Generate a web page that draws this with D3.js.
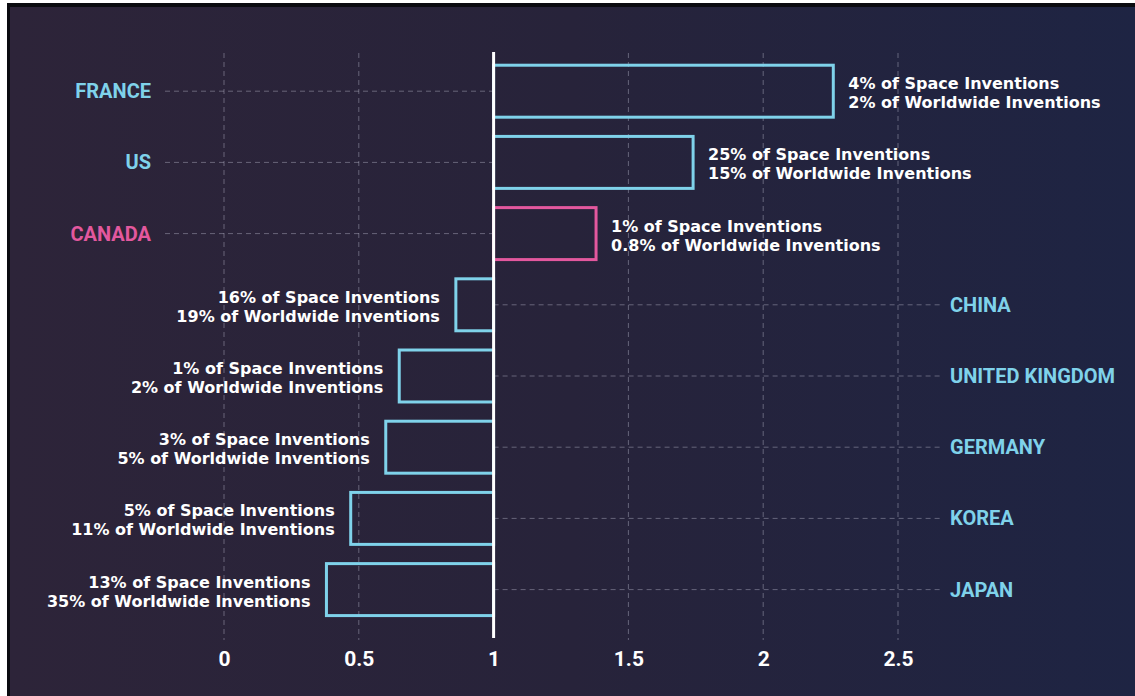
<!DOCTYPE html>
<html>
<head>
<meta charset="utf-8">
<script src="https://cdn.jsdelivr.net/npm/d3@7"></script>
<style>
  body { margin: 0; background: #ffffff; }
  svg { display: block; }
</style>
</head>
<body>
<svg id="chart" width="1135" height="696"></svg>
<script>
// Ratio of a country's share of space inventions to its share of all inventions
const countries  = ["FRANCE", "US", "CANADA", "CHINA", "UNITED KINGDOM", "GERMANY", "KOREA", "JAPAN"];
const ratios     = [2.26, 1.74, 1.38, 0.86, 0.65, 0.60, 0.47, 0.38];
const spaceShare = ["4%", "25%", "1%", "16%", "1%", "3%", "5%", "13%"];
const worldShare = ["2%", "15%", "0.8%", "19%", "2%", "5%", "11%", "35%"];
const highlighted = ["CANADA"];
const tickValues = [0, 0.5, 1, 1.5, 2, 2.5];
const baseline = 1;

const rows = countries.map((c, i) => ({
  country: c,
  ratio: ratios[i],
  space: spaceShare[i],
  world: worldShare[i]
}));

const W = 1135, H = 696;
const CYAN = "#7fd2ea", PINK = "#e3589e";
const textFont = "'DejaVu Sans', 'Open Sans', sans-serif";
const labelFont = "'Liberation Sans Narrow', 'Roboto', sans-serif";

const svg = d3.select("#chart");
const defs = svg.append("defs");
const grad = defs.append("linearGradient").attr("id", "bg").attr("x1", 0).attr("x2", 1).attr("y1", 0).attr("y2", 0);
grad.append("stop").attr("offset", "0%").attr("stop-color", "#2d2439");
grad.append("stop").attr("offset", "50%").attr("stop-color", "#27233a");
grad.append("stop").attr("offset", "100%").attr("stop-color", "#1e2443");

// frame and panel
svg.append("rect").attr("x", 7).attr("y", 3).attr("width", W - 7).attr("height", H - 3).attr("fill", "#0b0b10");
svg.append("rect").attr("x", 10).attr("y", 7).attr("width", W - 10).attr("height", H - 7).attr("fill", "url(#bg)");

const x = d3.scaleLinear().domain([0, 2.5]).range([224, 898]);
const y = d3.scaleBand().domain(countries).range([55.6, 625.2]).paddingInner(0.27).paddingOuter(0.135);
const yc = d => y(d) + y.bandwidth() / 2;

const gridTop = 53, gridBottom = 640;
const gridColor = "rgba(190,190,210,0.42)";

// vertical dashed grid
svg.append("g").selectAll("line")
  .data(tickValues.filter(t => t !== baseline))
  .join("line")
  .attr("x1", d => x(d)).attr("x2", d => x(d))
  .attr("y1", gridTop).attr("y2", gridBottom)
  .attr("stroke", gridColor).attr("stroke-width", 1)
  .attr("stroke-dasharray", "5,4");

// horizontal guides from country label to the baseline
const above = d => d.ratio >= baseline;
const leftLabelX = 151, rightLabelX = 950;
svg.append("g").selectAll("line")
  .data(rows)
  .join("line")
  .attr("x1", d => above(d) ? leftLabelX + 14 : x(baseline))
  .attr("x2", d => above(d) ? x(baseline) : rightLabelX - 10)
  .attr("y1", d => yc(d.country)).attr("y2", d => yc(d.country))
  .attr("stroke", gridColor).attr("stroke-width", 1)
  .attr("stroke-dasharray", "5,4");

// bars as outlined boxes from the baseline
svg.append("g").selectAll("rect")
  .data(rows)
  .join("rect")
  .attr("x", d => Math.min(x(d.ratio), x(baseline)))
  .attr("width", d => Math.abs(x(d.ratio) - x(baseline)))
  .attr("y", d => y(d.country))
  .attr("height", y.bandwidth())
  .attr("fill", "none")
  .attr("stroke", d => highlighted.includes(d.country) ? PINK : CYAN)
  .attr("stroke-width", 3);

// baseline axis
svg.append("line")
  .attr("x1", x(baseline)).attr("x2", x(baseline))
  .attr("y1", 52).attr("y2", 638)
  .attr("stroke", "#ffffff").attr("stroke-width", 3);

// country labels
svg.append("g").selectAll("text")
  .data(rows)
  .join("text")
  .attr("x", d => above(d) ? leftLabelX : rightLabelX)
  .attr("y", d => yc(d.country))
  .attr("dy", "0.35em")
  .attr("text-anchor", d => above(d) ? "end" : "start")
  .attr("fill", d => highlighted.includes(d.country) ? PINK : CYAN)
  .attr("font-family", labelFont)
  .attr("font-weight", 700)
  .attr("font-size", 20)
  .text(d => d.country);

// share annotations beside each bar, one text per line
const noteX = d => above(d) ? x(d.ratio) + 15 : x(d.ratio) - 16;
const noteLines = rows.flatMap(d => [
  { d, line: 0, text: `${d.space} of Space Inventions` },
  { d, line: 1, text: `${d.world} of Worldwide Inventions` }
]);
svg.append("g").selectAll("text")
  .data(noteLines)
  .join("text")
  .attr("x", n => noteX(n.d))
  .attr("y", n => yc(n.d.country) - 2 + n.line * 19)
  .attr("text-anchor", n => above(n.d) ? "start" : "end")
  .attr("fill", "#ffffff")
  .attr("font-family", textFont)
  .attr("font-weight", 700)
  .attr("font-size", 16)
  .text(n => n.text);

// x axis tick labels
const axis = d3.axisBottom(x).tickValues(tickValues).tickSize(0).tickPadding(0)
  .tickFormat(d3.format("~g"));
const gx = svg.append("g").attr("transform", "translate(0,651)").call(axis);
gx.select(".domain").remove();
gx.selectAll("text")
  .attr("fill", "#ffffff")
  .attr("font-family", labelFont)
  .attr("font-weight", 700)
  .attr("font-size", 21)
  .attr("dy", "0.71em");
</script>
</body>
</html>
